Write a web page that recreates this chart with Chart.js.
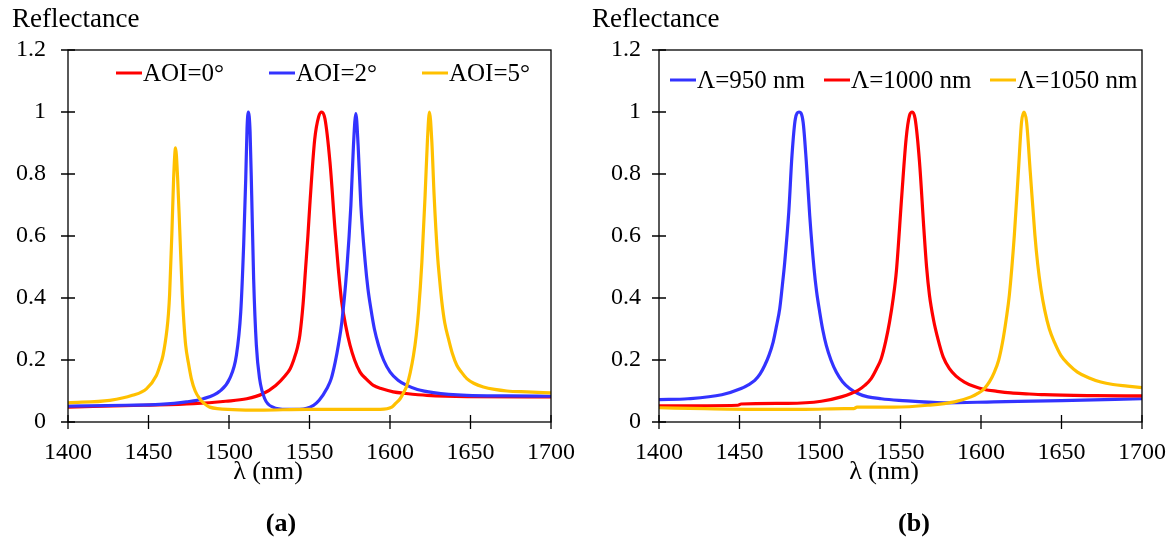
<!DOCTYPE html>
<html>
<head>
<meta charset="utf-8">
<script src="https://cdn.jsdelivr.net/npm/chart.js@4/dist/chart.umd.min.js"></script>
<style>
html, body { margin: 0; padding: 0; background: #fff; }
#wrap { position: relative; width: 1175px; height: 543px; }
.panel { position: absolute; top: 0; height: 543px; }
</style>
</head>
<body>
<div id="wrap">
  <div class="panel" style="left:0;width:587px"><canvas id="chartA"></canvas></div>
  <div class="panel" style="left:587px;width:588px"><canvas id="chartB"></canvas></div>
</div>
<script>
// axes
var xTicks = [1400, 1450, 1500, 1550, 1600, 1650, 1700];
var yTicks = [0, 0.2, 0.4, 0.6, 0.8, 1, 1.2];

// panel (a): angle of incidence
var labelsA = ['AOI=0°', 'AOI=2°', 'AOI=5°'];
var aoi0 = [[1400,0.048],[1447,0.054],[1478,0.059],[1498,0.067],[1511,0.075],[1521,0.091],[1529,0.118],[1535,0.15],
  [1538,0.172],[1540.5,0.205],[1542.5,0.24],[1544,0.28],[1546,0.38],[1547.5,0.49],[1549,0.60],[1550.2,0.70],
  [1553.2,0.91],[1555.7,0.985],[1557.6,1.0],[1559.6,0.978],[1562.7,0.839],[1565.8,0.624],[1567.8,0.5],
  [1570,0.387],[1572.5,0.31],[1575.2,0.247],[1578,0.2],[1581.4,0.161],[1585,0.14],[1589.7,0.118],[1595,0.107],
  [1602,0.097],[1610,0.092],[1623,0.086],[1648,0.082],[1700,0.081]];
var aoi2 = [[1400,0.051],[1436,0.054],[1457,0.057],[1473.5,0.065],[1484,0.075],[1494.2,0.099],[1500.4,0.14],
  [1504.6,0.215],[1507.3,0.355],[1509.1,0.57],[1510.4,0.785],[1511.2,0.946],[1512,1.0],[1513.1,0.935],
  [1514.1,0.731],[1515.3,0.462],[1517,0.247],[1519,0.14],[1522.2,0.075],[1527.3,0.048],[1535.6,0.041],
  [1544,0.041],[1552.5,0.054],[1556,0.07],[1560.8,0.108],[1563.5,0.14],[1566,0.194],[1568,0.25],[1570.1,0.323],
  [1573.2,0.495],[1575.7,0.699],[1577.3,0.892],[1578.8,0.995],[1580.2,0.892],[1581.9,0.699],[1584.6,0.516],
  [1586.3,0.43],[1588.1,0.366],[1590.3,0.3],[1592.9,0.247],[1596,0.2],[1600.1,0.161],[1605,0.135],
  [1610.5,0.118],[1617,0.105],[1627,0.095],[1647.7,0.086],[1672.6,0.084],[1700,0.083]];
var aoi5 = [[1400,0.062],[1426,0.07],[1440,0.086],[1448.7,0.107],[1454.9,0.15],[1457,0.18],[1459,0.215],
  [1461.5,0.30],[1462.4,0.35],[1463.1,0.41],[1464.6,0.62],[1465.6,0.785],[1466.8,0.884],[1468.1,0.785],
  [1469.4,0.62],[1471,0.41],[1472,0.32],[1473.1,0.247],[1474.8,0.19],[1476.6,0.14],[1479,0.1],[1481.8,0.075],
  [1484.5,0.06],[1488,0.048],[1502.5,0.04],[1519,0.038],[1548,0.041],[1575,0.041],[1594,0.041],[1601.1,0.048],
  [1603.5,0.06],[1606.3,0.075],[1608.5,0.095],[1610.5,0.118],[1612.6,0.16],[1614.6,0.215],[1616.3,0.28],
  [1617.7,0.355],[1619.8,0.516],[1621.8,0.731],[1623.3,0.914],[1624.5,1.0],[1626,0.903],[1627.4,0.731],
  [1629.5,0.538],[1630.8,0.46],[1632.2,0.387],[1634,0.32],[1636.3,0.269],[1638.8,0.22],[1641.5,0.183],
  [1644.5,0.16],[1647.7,0.14],[1652,0.125],[1658,0.113],[1665,0.105],[1672.6,0.1],[1685,0.097],[1700,0.094]];

// panel (b): grating period
var labelsB = ['Λ=950 nm', 'Λ=1000 nm', 'Λ=1050 nm'];
var lam950 = [[1400,0.072],[1418,0.075],[1439,0.088],[1451,0.108],[1455.5,0.12],[1459.5,0.134],[1462.8,0.155],
  [1465.7,0.183],[1468.3,0.215],[1470.9,0.258],[1473,0.31],[1475,0.366],[1476.6,0.44],[1478.1,0.516],
  [1480.6,0.677],[1482.6,0.86],[1484.7,0.978],[1487,1.0],[1489.5,0.968],[1491.5,0.839],[1493.6,0.667],
  [1496.3,0.495],[1497.9,0.42],[1499.8,0.355],[1501.8,0.295],[1503.9,0.247],[1506.8,0.2],[1510.1,0.161],
  [1514,0.13],[1518.4,0.108],[1523.5,0.092],[1529.8,0.081],[1538,0.075],[1549,0.07],[1577,0.062],
  [1608,0.065],[1650,0.069],[1700,0.075]];
var lam1000 = [[1400,0.052],[1449,0.054],[1451,0.058],[1480,0.06],[1500.8,0.067],[1513.2,0.081],[1523.6,0.102],
  [1527.8,0.118],[1531.8,0.14],[1535,0.17],[1538,0.204],[1540.8,0.26],[1543.2,0.323],[1545.5,0.4],
  [1547.5,0.49],[1550.8,0.731],[1553.5,0.914],[1555.6,0.989],[1557.3,1.0],[1559.1,0.978],[1561.8,0.839],
  [1564.5,0.624],[1566.2,0.5],[1568,0.409],[1570.5,0.33],[1573.2,0.269],[1576.5,0.21],[1580.4,0.172],
  [1584.5,0.148],[1589.7,0.129],[1595.5,0.115],[1602.1,0.105],[1610,0.099],[1618.6,0.094],[1628,0.091],
  [1639.3,0.088],[1670.3,0.085],[1700,0.084]];
var lam1050 = [[1400,0.046],[1428.5,0.043],[1459.5,0.041],[1490.5,0.041],[1515.3,0.043],[1521,0.043],[1523,0.048],
  [1546,0.048],[1567,0.054],[1583.5,0.065],[1593.8,0.081],[1598,0.092],[1602.1,0.108],[1605.3,0.13],
  [1608.3,0.161],[1611,0.2],[1613.4,0.258],[1615.6,0.33],[1617.6,0.409],[1620.7,0.602],[1623.2,0.806],
  [1625.2,0.968],[1626.7,1.0],[1628.3,0.968],[1630.6,0.806],[1633.5,0.602],[1635.2,0.51],[1637.2,0.43],
  [1639.6,0.36],[1642.4,0.301],[1645.8,0.255],[1649.6,0.215],[1654.5,0.185],[1659.9,0.161],[1666.8,0.143],
  [1674.4,0.129],[1682,0.121],[1690.9,0.116],[1700,0.111]];

var RED = '#ff0000', BLUE = '#3333ff', GOLD = '#ffc000';
var SERIF = "'Liberation Serif', 'Times New Roman', serif";

function toXY(arr) {
  return arr.map(function (p) { return { x: p[0], y: p[1] }; });
}

function series(label, arr, color, order) {
  return {
    label: label,
    data: toXY(arr),
    borderColor: color,
    backgroundColor: color,
    borderWidth: 3.2,
    pointRadius: 0,
    fill: false,
    cubicInterpolationMode: 'monotone',
    order: order
  };
}

// box, crossing tick marks, titles and the in-plot legend
var decor = {
  id: 'decor',
  afterDraw: function (chart) {
    var o = chart.options.plugins.decor;
    var ctx = chart.ctx, a = chart.chartArea;
    var xs = chart.scales.x, ys = chart.scales.y;
    ctx.save();
    ctx.strokeStyle = '#000';
    ctx.lineWidth = 1.3;
    ctx.strokeRect(a.left, a.top, a.right - a.left, a.bottom - a.top);
    ctx.beginPath();
    xTicks.forEach(function (v) {
      var px = xs.getPixelForValue(v);
      ctx.moveTo(px, a.bottom - 7); ctx.lineTo(px, a.bottom + 7);
    });
    yTicks.forEach(function (v) {
      var py = ys.getPixelForValue(v);
      ctx.moveTo(a.left - 7, py); ctx.lineTo(a.left + 7, py);
    });
    ctx.stroke();

    ctx.fillStyle = '#000';
    ctx.textBaseline = 'alphabetic';
    ctx.font = '27px ' + SERIF;
    ctx.textAlign = 'left';
    ctx.fillText('Reflectance', o.titleX, 27);
    ctx.font = '26px ' + SERIF;
    ctx.textAlign = 'center';
    ctx.fillText('λ (nm)', o.xTitleX, 479);
    ctx.font = 'bold 26px ' + SERIF;
    ctx.fillText(o.tag, o.tagX, 531);

    ctx.font = '25px ' + SERIF;
    ctx.textAlign = 'left';
    ctx.textBaseline = 'middle';
    chart.data.datasets.forEach(function (ds, i) {
      var x0 = o.legendX[i];
      ctx.strokeStyle = ds.borderColor;
      ctx.lineWidth = 3;
      ctx.beginPath();
      ctx.moveTo(x0, o.legendY); ctx.lineTo(x0 + 26, o.legendY);
      ctx.stroke();
      ctx.fillText(ds.label, x0 + 27, o.legendY + 1);
    });
    ctx.restore();
  }
};

function makeChart(id, datasets, cfg) {
  return new Chart(document.getElementById(id), {
    type: 'line',
    data: { datasets: datasets },
    plugins: [decor],
    options: {
      responsive: true,
      maintainAspectRatio: false,
      animation: false,
      layout: { padding: { left: 0, right: cfg.padRight, top: 50, bottom: 0 } },
      plugins: {
        legend: { display: false },
        tooltip: { enabled: false },
        decor: cfg
      },
      scales: {
        x: {
          type: 'linear',
          min: 1400, max: 1700,
          afterBuildTicks: function (s) { s.ticks = xTicks.map(function (v) { return { value: v }; }); },
          afterFit: function (s) { s.height = 121; s.paddingLeft = 0; s.paddingRight = 0; },
          grid: { display: false, drawTicks: false },
          border: { display: false },
          ticks: {
            color: '#000', padding: 16, maxRotation: 0, font: { family: SERIF, size: 24 },
            callback: function (v) { return String(v); }
          }
        },
        y: {
          min: 0, max: 1.2,
          afterBuildTicks: function (s) { s.ticks = yTicks.map(function (v) { return { value: v }; }); },
          afterFit: function (s) { s.width = cfg.yWidth; },
          grid: { display: false, drawTicks: false },
          border: { display: false },
          ticks: {
            color: '#000', padding: cfg.yPad, font: { family: SERIF, size: 24 },
            callback: function (v) { return String(Math.round(v * 10) / 10); }
          }
        }
      }
    }
  });
}

makeChart('chartA', [
  series(labelsA[0], aoi0, RED, 2),
  series(labelsA[1], aoi2, BLUE, 1),
  series(labelsA[2], aoi5, GOLD, 0)
], { yWidth: 68, yPad: 22, padRight: 36, titleX: 12, xTitleX: 268, tag: '(a)', tagX: 281,
     legendX: [116, 269, 422], legendY: 73 });

makeChart('chartB', [
  series(labelsB[0], lam950, BLUE, 2),
  series(labelsB[1], lam1000, RED, 1),
  series(labelsB[2], lam1050, GOLD, 0)
], { yWidth: 72, yPad: 18, padRight: 33, titleX: 5, xTitleX: 297, tag: '(b)', tagX: 327,
     legendX: [83, 237, 403], legendY: 80 });
</script>
</body>
</html>
